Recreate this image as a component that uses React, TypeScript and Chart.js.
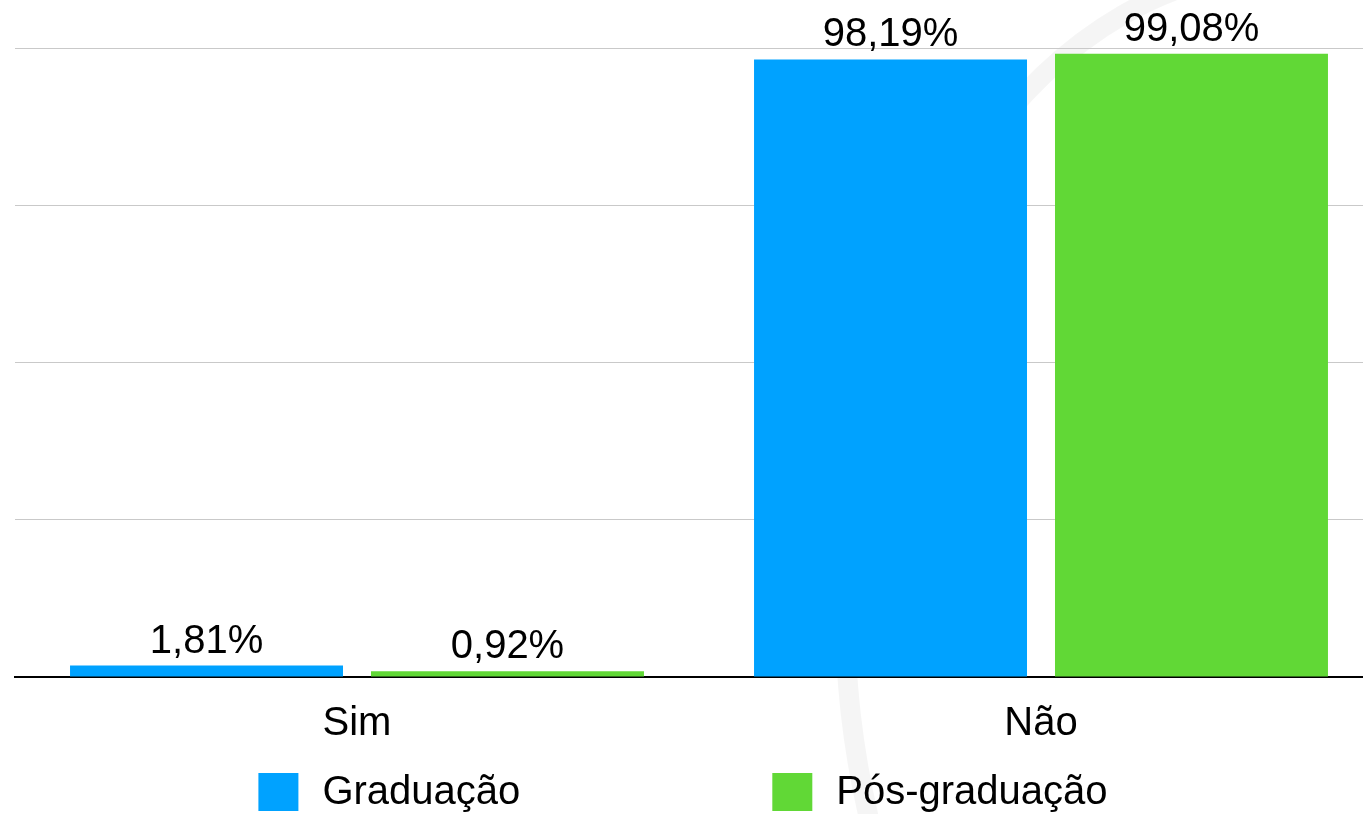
import { useEffect, useRef } from 'react';
import { Chart, registerables } from 'chart.js';

Chart.register(...registerables);

const categories = ['Sim', 'Não'];
const seriesNames = ['Graduação', 'Pós-graduação'];
const graduacao = [1.81, 98.19];
const posGraduacao = [0.92, 99.08];
const yTicks = [0, 25, 50, 75, 100];
const seriesColors = ['#00A2FF', '#61D836'];

const FONT = "'Liberation Sans', Arial, Helvetica, sans-serif";

const fmt = (v: number) => v.toFixed(2).replace('.', ',') + '%';

const watermarkPlugin = {
  id: 'watermark',
  beforeDraw(chart: any) {
    const ctx = chart.ctx;
    ctx.save();
    ctx.strokeStyle = 'rgba(0,0,0,0.04)';
    ctx.lineWidth = 20;
    ctx.beginPath();
    ctx.ellipse(1285, 610, 440, 640, 0, 0, Math.PI * 2);
    ctx.stroke();
    ctx.restore();
  },
};

const valueLabelPlugin = {
  id: 'valueLabels',
  afterDatasetsDraw(chart: any) {
    const ctx = chart.ctx;
    ctx.save();
    ctx.font = `40px ${FONT}`;
    ctx.fillStyle = '#000';
    ctx.textAlign = 'center';
    ctx.textBaseline = 'alphabetic';
    chart.data.datasets.forEach((ds: any, di: number) => {
      const meta = chart.getDatasetMeta(di);
      meta.data.forEach((bar: any, i: number) => {
        ctx.fillText(fmt(ds.data[i] as number), bar.x, bar.y - 13);
      });
    });
    ctx.restore();
  },
};

const legendPlugin = {
  id: 'customLegend',
  afterDraw(chart: any) {
    const ctx = chart.ctx;
    ctx.save();
    ctx.font = `40px ${FONT}`;
    const boxW = 40;
    const boxH = 38;
    const textGap = 24;
    const itemGap = 252;
    const ds = chart.data.datasets;
    const widths = ds.map((d: any) => boxW + textGap + ctx.measureText(d.label).width);
    const total = widths.reduce((a: number, b: number) => a + b, 0) + itemGap * (ds.length - 1);
    let x = 683 - total / 2;
    const cy = 792;
    ds.forEach((d: any, i: number) => {
      ctx.fillStyle = d.backgroundColor;
      ctx.fillRect(x, cy - boxH / 2, boxW, boxH);
      ctx.fillStyle = '#000';
      ctx.textAlign = 'left';
      ctx.textBaseline = 'middle';
      ctx.fillText(d.label, x + boxW + textGap, cy + 1);
      x += widths[i] + itemGap;
    });
    ctx.restore();
  },
};

export default function App() {
  const ref = useRef<HTMLCanvasElement | null>(null);

  useEffect(() => {
    if (!ref.current) return;
    const chart = new Chart(ref.current, {
      type: 'bar',
      data: {
        labels: categories,
        datasets: [
          { label: seriesNames[0], data: graduacao, backgroundColor: seriesColors[0] },
          { label: seriesNames[1], data: posGraduacao, backgroundColor: seriesColors[1] },
        ],
      },
      options: {
        responsive: false,
        animation: false,
        devicePixelRatio: 1,
        layout: { padding: { left: 15, right: 17, top: 48, bottom: 0 } },
        datasets: {
          bar: { categoryPercentage: 0.88, barPercentage: 0.907 },
        },
        plugins: {
          legend: { display: false },
          tooltip: { enabled: false },
        },
        scales: {
          x: {
            grid: { display: false },
            border: { display: true, color: '#000', width: 2 },
            ticks: {
              color: '#000',
              font: { family: FONT, size: 40 },
              padding: 15,
            },
            afterFit: (s: any) => {
              s.height = 137;
            },
          },
          y: {
            min: 0,
            max: 100,
            afterBuildTicks: (s: any) => {
              s.ticks = yTicks.map((v) => ({ value: v }));
            },
            ticks: { display: false },
            border: { display: false },
            grid: {
              color: (c: any) => (c.tick && c.tick.value === 0 ? 'rgba(0,0,0,0)' : '#c9c9c9'),
              lineWidth: 1,
              drawTicks: false,
            },
            afterFit: (s: any) => {
              s.width = 0;
            },
          },
        },
      },
      plugins: [watermarkPlugin, valueLabelPlugin, legendPlugin],
    });
    return () => chart.destroy();
  }, []);

  return (
    <div
      style={{
        position: 'fixed',
        left: 0,
        top: 0,
        width: 1363,
        height: 814,
        overflow: 'hidden',
        background: '#fff',
      }}
    >
      <canvas ref={ref} width={1400} height={814} style={{ display: 'block', width: 1400, height: 814 }} />
    </div>
  );
}
